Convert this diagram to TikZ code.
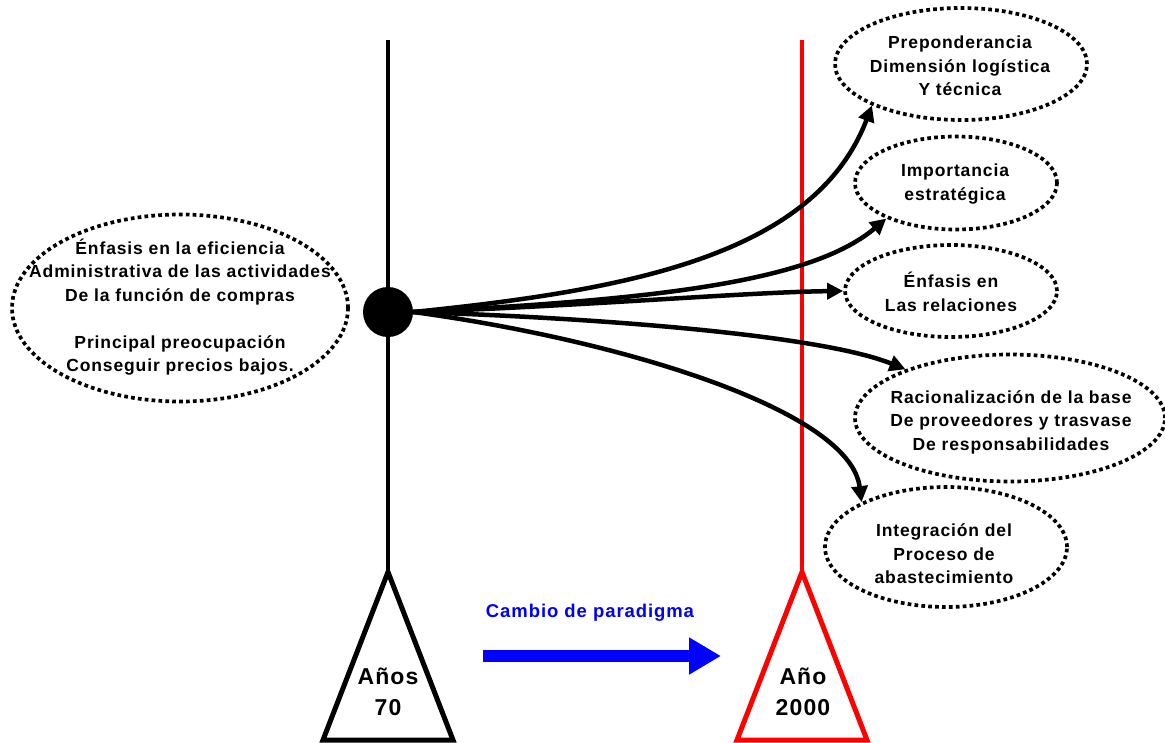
\documentclass[tikz,border=0pt]{standalone}
\usepackage{fontspec}
\setmainfont{Liberation Sans}[LetterSpace=5]
\usetikzlibrary{shapes.geometric,arrows.meta}
\begin{document}
\begin{tikzpicture}[x=1pt,y=-1pt,
  ell/.style={ellipse,draw,line width=3.7pt,dash pattern=on 3.7pt off 3.2pt,inner sep=0pt},
  txt/.style={align=center,inner sep=0pt,font=\bfseries\fontsize{17.5}{23.5}\selectfont},
  bigtxt/.style={align=center,inner sep=0pt,font=\bfseries\fontsize{23}{31}\selectfont},
  arr/.style={line width=4.5pt,-{Triangle[length=16pt,width=16pt]}},
  axis/.style={line width=4.5pt},
  tri/.style={line width=5pt,line join=miter}
]
\useasboundingbox (0,0) rectangle (1165,742);
% axes
\coordinate (topA) at (388,40);
\coordinate (apexA) at (388,572);
\coordinate (blA) at (323,740);
\coordinate (brA) at (453,740);
\coordinate (topB) at (802,40);
\coordinate (apexB) at (802,572);
\coordinate (blB) at (737,740);
\coordinate (brB) at (867,740);
\draw[axis] (topA) -- (apexA);
\draw[axis,red] (topB) -- (apexB);
\draw[tri] (apexA) -- (brA) -- (blA) -- cycle;
\draw[tri,red] (apexB) -- (brB) -- (blB) -- cycle;
\node[bigtxt] (t70) at (388,692) {Años\\70};
\node[bigtxt] (t2000) at (803,692) {Año\\2000};
% paradigm arrow
\coordinate (bs) at (483,656);
\coordinate (be) at (721,656);
\draw[blue,line width=12pt,-{Triangle[length=32pt,width=35pt]}] (bs) -- (be);
\node[txt,blue,font=\bfseries\fontsize{18.5}{22}\selectfont] (cambio) at (590,613) {Cambio de paradigma};
% left ellipse
\node[ell,minimum width=336pt,minimum height=187pt] (e0) at (180,308) {};
\node[txt] (t0) at (180,307) {Énfasis en la eficiencia\\Administrativa de las actividades\\De la función de compras\\[23.5pt]Principal preocupación\\Conseguir precios bajos.};
% hub
\node[circle,fill,inner sep=0pt,minimum size=50pt] (hub) at (388,312) {};
% right ellipses
\node[ell,minimum width=252pt,minimum height=112pt] (e1) at (961,64) {};
\node[txt] (t1) at (960,66) {Preponderancia\\Dimensión logística\\Y técnica};
\node[ell,minimum width=202pt,minimum height=93pt] (e2) at (956,183) {};
\node[txt] (t2) at (955,184) {Importancia\\estratégica};
\node[ell,minimum width=212pt,minimum height=92pt] (e3) at (951,291) {};
\node[txt] (t3) at (951,292) {Énfasis en\\Las relaciones};
\node[ell,minimum width=310pt,minimum height=127pt] (e4) at (1010,418) {};
\node[txt] (t4) at (1011,422) {Racionalización de la base\\De proveedores y trasvase\\De responsabilidades};
\node[ell,minimum width=242pt,minimum height=120pt] (e5) at (946,547) {};
\node[txt] (t5) at (944,554) {Integración del\\Proceso de\\abastecimiento};
% arrows
\draw[arr] (hub.east) .. controls (630,290) and (815,255) .. (e1.205);
\draw[arr] (hub.east) .. controls (650,300) and (810,283) .. (e2.207);
\draw[arr] (hub.east) .. controls (600,305) and (750,292) .. (e3.180);
\draw[arr] (hub.east) .. controls (600,318) and (820,335) .. (e4.155);
\draw[arr] (hub.east) .. controls (620,340) and (850,410) .. (e5.152);
\end{tikzpicture}
\end{document}
